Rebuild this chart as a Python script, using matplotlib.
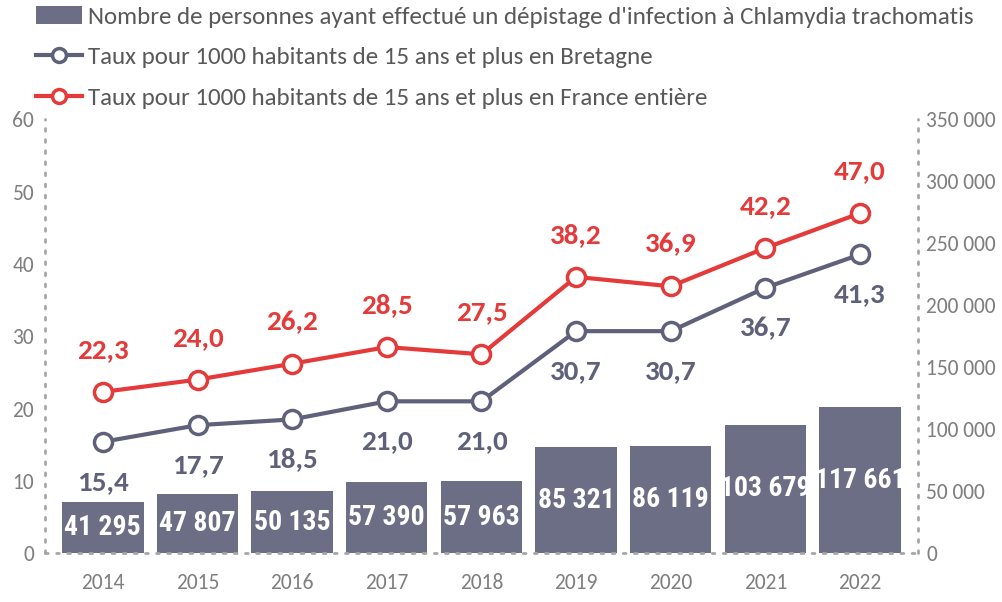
import matplotlib
matplotlib.use("Agg")
from matplotlib import pyplot as plt
from matplotlib.ticker import FuncFormatter
from matplotlib.patches import Patch
from matplotlib.lines import Line2D

annees = ['2014', '2015', '2016', '2017', '2018', '2019', '2020', '2021', '2022']
depistages = [41295, 47807, 50135, 57390, 57963, 85321, 86119, 103679, 117661]
taux_bretagne = [15.4, 17.7, 18.5, 21.0, 21.0, 30.7, 30.7, 36.7, 41.3]
taux_france = [22.3, 24.0, 26.2, 28.5, 27.5, 38.2, 36.9, 42.2, 47.0]

col_bar = '#6b6e84'
col_bzh = '#5e6179'
col_fr = '#e43a3a'
col_tick = '#7f7f7f'
col_axis = '#a6a6a6'

plt.rcParams['font.family'] = ['Carlito', 'DejaVu Sans']

fig = plt.figure(figsize=(10.03, 6.02), dpi=100)
ax = fig.add_axes([0.045, 0.081, 0.870, 0.721])
ax2 = ax.twinx()

x = list(range(len(annees)))

# barres sur l'axe de droite
ax2.bar(x, depistages, width=0.86, color=col_bar, zorder=2)
for xi, v in zip(x, depistages):
    txt = '{:,}'.format(v).replace(',', ' ')
    ax2.text(xi, v / 2, txt, ha='center', va='center', color='white',
             fontsize=20, fontweight='bold',
             family=['Roboto Condensed', 'DejaVu Sans'], zorder=3)
ax2.set_ylim(0, 350000)
ax2.set_yticks(range(0, 350001, 50000))
ax2.yaxis.set_major_formatter(FuncFormatter(lambda v, p: '{:,}'.format(int(v)).replace(',', ' ')))

# courbes sur l'axe de gauche, au dessus des barres
ax.set_zorder(ax2.get_zorder() + 1)
ax.patch.set_visible(False)
ax.plot(x, taux_bretagne, color=col_bzh, linewidth=3, marker='o', markersize=13,
        markerfacecolor='white', markeredgewidth=2.5, zorder=4)
ax.plot(x, taux_france, color=col_fr, linewidth=3, marker='o', markersize=13,
        markerfacecolor='white', markeredgewidth=2.5, zorder=5)

for xi, v in zip(x, taux_bretagne):
    ax.annotate(('%.1f' % v).replace('.', ','), (xi, v), xytext=(0, -40),
                textcoords='offset pixels', ha='center', va='center',
                color=col_bzh, fontsize=21, fontweight='bold')
for xi, v in zip(x, taux_france):
    ax.annotate(('%.1f' % v).replace('.', ','), (xi, v), xytext=(0, 42),
                textcoords='offset pixels', ha='center', va='center',
                color=col_fr, fontsize=21, fontweight='bold')

ax.set_ylim(0, 60)
ax.set_yticks(range(0, 61, 10))
ax.set_xlim(-0.61, 8.61)
ax.set_xticks(x)
ax.set_xticklabels(annees)

for a in (ax, ax2):
    for s in a.spines.values():
        s.set_visible(False)
    a.tick_params(colors=col_tick, labelsize=15.5, length=0, pad=8)
ax.tick_params(axis='x', pad=14)
ax2.tick_params(axis='y', pad=6)

# axes en pointillés
ax.spines['left'].set_visible(True)
ax.spines['bottom'].set_visible(True)
ax2.spines['right'].set_visible(True)
for s in (ax.spines['left'], ax.spines['bottom'], ax2.spines['right']):
    s.set_color(col_axis)
    s.set_linewidth(2)
    s.set_linestyle((0, (1, 3)))
    s.set_capstyle('round')
    s.set_zorder(6)

handles = [
    Patch(facecolor=col_bar, edgecolor='none'),
    Line2D([], [], color=col_bzh, linewidth=3, marker='o', markersize=10,
           markerfacecolor='white', markeredgewidth=2.5),
    Line2D([], [], color=col_fr, linewidth=3, marker='o', markersize=10,
           markerfacecolor='white', markeredgewidth=2.5),
]
labels = [
    "Nombre de personnes ayant effectué un dépistage d'infection à Chlamydia trachomatis",
    'Taux pour 1000 habitants de 15 ans et plus en Bretagne',
    'Taux pour 1000 habitants de 15 ans et plus en France entière',
]
leg = fig.legend(handles, labels, loc='upper left', bbox_to_anchor=(0.036, 0.99),
                 frameon=False, fontsize=18, handlelength=1.85, handletextpad=0.24,
                 labelspacing=0.76, borderaxespad=0, borderpad=0)
for t in leg.get_texts():
    t.set_color('#595959')

plt.savefig('out.png', dpi=100)
